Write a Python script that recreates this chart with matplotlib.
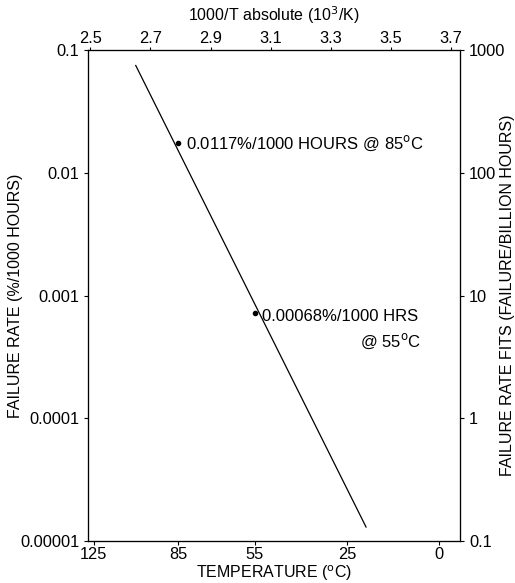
import numpy as np
import matplotlib
matplotlib.use("Agg")
import matplotlib.pyplot as plt

plt.rcParams['font.family'] = ['Liberation Sans', 'DejaVu Sans']

# line of failure rate vs temperature (deg C)
line_temp_c = [104, 19.5]
line_rate = [0.075, 1.3e-5]

# marked points
point_temp_c = [85, 55]
point_rate = [0.0175, 0.00072]

top_ticks = [2.5, 2.7, 2.9, 3.1, 3.3, 3.5, 3.7]
bottom_temps = [125, 85, 55, 25, 0]
left_ticks = [0.00001, 0.0001, 0.001, 0.01, 0.1]
left_labels = ['0.00001', '0.0001', '0.001', '0.01', '0.1']
right_ticks = [0.1, 1, 10, 100, 1000]
right_labels = ['0.1', '1', '10', '100', '1000']


def inv_t(c):
    return 1000.0 / (np.asarray(c, dtype=float) + 273.15)


fig = plt.figure(figsize=(5.15, 5.83), dpi=100)
ax = fig.add_axes([0.171, 0.072, 0.722, 0.842])

ax.plot(inv_t(line_temp_c), line_rate, color='black', lw=0.9)
ax.plot(inv_t(point_temp_c), point_rate, 'o', color='black', ms=3)

ax.set_yscale('log')
ax.set_ylim(1e-5, 0.1)
ax.set_xlim(2.493, 3.729)

ax.set_yticks(left_ticks)
ax.set_yticklabels(left_labels)
ax.yaxis.set_minor_locator(matplotlib.ticker.NullLocator())
ax.set_xticks(inv_t(bottom_temps))
ax.set_xticklabels([str(t) for t in bottom_temps])
ax.tick_params(axis='both', labelsize=11.8, length=3, width=0.8, direction='out')
ax.tick_params(axis='x', pad=1)
ax.set_xlabel('TEMPERATURE ($^{\\rm o}$C)', fontsize=11.5, labelpad=1)
ax.set_ylabel('FAILURE RATE (%/1000 HOURS)', fontsize=11.5, va='center')
ax.yaxis.set_label_coords(-0.196, 0.5)

ax.text(inv_t(85) + 0.025, point_rate[0], '0.0117%/1000 HOURS @ 85$^{\\rm o}$C',
        fontsize=12, va='center', ha='left')
ax.text(inv_t(55) + 0.025, 0.00068, '0.00068%/1000 HRS',
        fontsize=12, va='center', ha='left')
ax.text(3.6, 0.00042, '@ 55$^{\\rm o}$C', fontsize=12, va='center', ha='right')

# right axis: FITs
ax_r = ax.twinx()
ax_r.set_yscale('log')
ax_r.set_ylim(0.1, 1000)
ax_r.set_yticks(right_ticks)
ax_r.set_yticklabels(right_labels)
ax_r.yaxis.set_minor_locator(matplotlib.ticker.NullLocator())
ax_r.tick_params(axis='y', labelsize=11.8, length=3, width=0.8)
ax_r.set_ylabel('FAILURE RATE FITS (FAILURE/BILLION HOURS)', fontsize=11.5,
                rotation=90, va='center')
ax_r.yaxis.set_label_coords(1.129, 0.5)

# top axis: 1000/T
ax_t = ax.twiny()
ax_t.set_xlim(ax.get_xlim())
ax_t.set_xticks(top_ticks)
ax_t.set_xticklabels([f'{v:.1f}' for v in top_ticks])
ax_t.tick_params(axis='x', labelsize=11.8, length=2, width=0.8, pad=1)
ax_t.set_xlabel('1000/T absolute (10$^3$/K)', fontsize=11.5, labelpad=7)

for a in (ax, ax_r, ax_t):
    for s in a.spines.values():
        s.set_linewidth(0.8)

plt.savefig('out.png', dpi=100)
